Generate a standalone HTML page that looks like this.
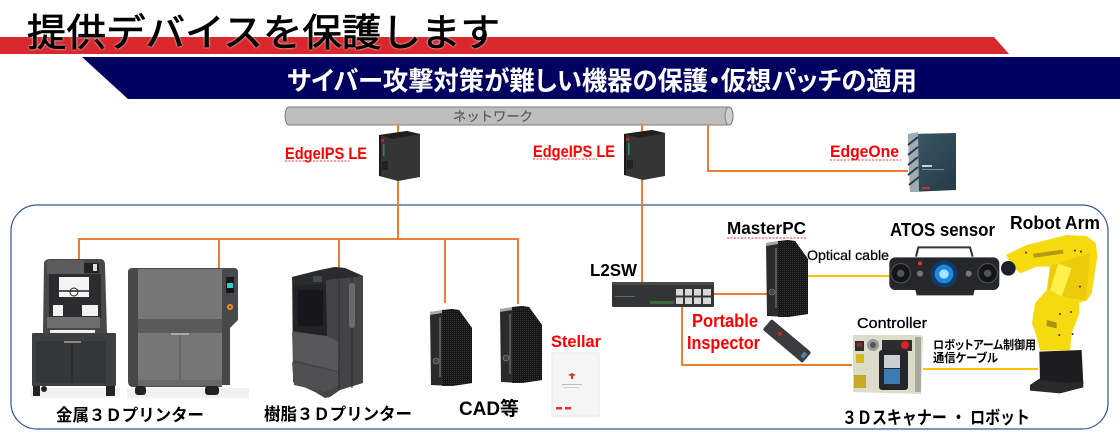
<!DOCTYPE html>
<html lang="ja"><head><meta charset="utf-8"><title>提供デバイスを保護します</title>
<style>
html,body{margin:0;padding:0;background:#fff;width:1120px;height:440px;overflow:hidden}
svg{display:block}
text{font-family:"Liberation Sans","Noto Sans CJK JP",sans-serif}
.b{font-weight:700}
.p{font-feature-settings:"palt"}
.r{fill:#f00;font-weight:700}
.w{fill:none;stroke:#f33;stroke-width:1;stroke-dasharray:2 1.5}
.o{stroke:#ed7d31;stroke-width:2;fill:none}
.y{stroke:#ffc000;stroke-width:2;fill:none}
</style></head><body>
<svg width="1120" height="440" viewBox="0 0 1120 440" xmlns="http://www.w3.org/2000/svg">
<defs>
<pattern id="mesh" width="2" height="2" patternUnits="userSpaceOnUse"><rect width="2" height="2" fill="#161616"/><rect width="1" height="1" fill="#303030"/></pattern>
<g id="pc">
<path d="M0 3 22 0 29 1 42 19 42 74 22 77 1 76Z" fill="#2a2a2a"/>
<path d="M12 1 22 0 22 77 12 77Z" fill="url(#mesh)"/>
<path d="M22 0 29 1 42 19 42 74 22 77Z" fill="url(#mesh)"/>
<path d="M0 3 12 1 12 4 0 6Z" fill="#a8a8a8"/>
<path d="M9 8h2v60H9z" fill="#555"/>
<circle cx="6" cy="52" r="3" fill="#444" stroke="#888" stroke-width=".6"/>
</g>
<g id="ips">
<path d="M0 4 28 0 41 3 41 46 19 50 0 45Z" fill="#353535"/>
<path d="M0 4 28 0 41 3 14 8Z" fill="#1f1f1f"/>
<path d="M0 4 2 4 2 45 0 45Z" fill="#1a1a1a"/>
<rect x="2" y="8" width="3" height="2.5" fill="#c22"/>
<rect x="4" y="13" width="1.5" height="12" fill="#2a8a7a"/>
<rect x="3" y="30" width="6" height="9" fill="#222"/>
</g>
<linearGradient id="eo" x1="0" y1="0" x2="1" y2="1"><stop offset="0" stop-color="#3c5868"/><stop offset="1" stop-color="#263a48"/></linearGradient>
</defs>

<!-- banners -->
<polygon points="0,37 994,37 1009,54 0,54" fill="#d9272e"/>
<polygon points="82,57 1120,57 1120,99 128,99" fill="#000060"/>
<text x="27" y="46" font-size="38" textLength="473" lengthAdjust="spacingAndGlyphs" fill="#000" stroke="#000" stroke-width=".8" style="filter:drop-shadow(0 0 1px #fff)">提供デバイスを保護します</text>
<text x="287" y="90" font-size="26" textLength="630" lengthAdjust="spacingAndGlyphs" fill="#fff" class="b p">サイバー攻撃対策が難しい機器の保護・仮想パッチの適用</text>

<!-- network pipe -->
<path d="M289 107H729a4 9 0 0 1 0 18H289a4 9 0 0 1 0-18Z" fill="#bdbdbd" stroke="#7f7f7f" stroke-width="1"/>
<ellipse cx="729" cy="116" rx="4" ry="9" fill="#cfcfcf" stroke="#7f7f7f"/>
<text x="453" y="121" font-size="13" textLength="80" lengthAdjust="spacingAndGlyphs" fill="#595959" stroke="#595959" stroke-width=".2">ネットワーク</text>

<!-- group frame -->
<rect x="11" y="205" width="1097" height="224" rx="26" ry="26" fill="none" stroke="#2f5597" stroke-width="1.2"/>

<!-- connectors -->
<path class="o" d="M398 125V239M642 125V282M708 125V171H908M79 259V239H519M219 239V268M339 239V268M445 239V303M518 239V304M714 294H767M682 307V365H852"/>
<path class="y" d="M807 276H890M923 369H1038"/>

<!-- EdgeIPS / EdgeOne -->
<use href="#ips" x="379" y="131"/>
<use href="#ips" x="624" y="130"/>
<polygon points="908,134 956,133 956,190 910,192" fill="url(#eo)"/>
<polygon points="908,134 918,132 919,192 910,192" fill="#a0acb4"/>
<path d="M908 145 918 137M908 155 918 147M908 165 918 157M908 175 918 167M909 185 919 177" stroke="#2a3d4a" stroke-width="2"/>
<rect x="922" y="165" width="10" height="2" fill="#ccd"/><rect x="922" y="169" width="22" height="1" fill="#789"/><rect x="922" y="187" width="8" height="2" fill="#c33"/>

<text x="285" y="159" font-size="16.500" class="r" textLength="82" lengthAdjust="spacingAndGlyphs">EdgeIPS LE</text>
<path class="w" d="M285 161H349"/>
<text x="533" y="157" font-size="16.500" class="r" textLength="82" lengthAdjust="spacingAndGlyphs">EdgeIPS LE</text>
<path class="w" d="M533 159H597"/>
<text x="830" y="157" font-size="16.500" class="r" textLength="69" lengthAdjust="spacingAndGlyphs">EdgeOne</text>
<path class="w" d="M830 160H901"/>

<!-- metal printer -->
<g>
<rect x="30" y="388" width="90" height="10" fill="#f1f1f1"/>
<path d="M43 333 44 263Q45 259 50 259H100Q105 259 105 265L107 333Z" fill="#47484a"/>
<rect x="47" y="260" width="37" height="14" fill="#5c5c5e"/>
<rect x="84" y="263" width="15" height="10" fill="#222"/><rect x="93" y="264" width="4" height="7" fill="#ddd"/>
<rect x="49" y="274" width="52" height="44" fill="#2c2c2e"/>
<rect x="59" y="277" width="30" height="20" fill="#f4f4f4"/>
<rect x="59" y="290" width="30" height="2" fill="#555"/>
<circle cx="74" cy="292" r="4" fill="none" stroke="#222"/>
<rect x="53" y="305" width="10" height="11" fill="#f2f2f2"/><rect x="82" y="305" width="16" height="11" fill="#f2f2f2"/>
<rect x="47" y="317" width="53" height="11" fill="#6e6e70"/>
<rect x="50" y="330" width="45" height="3" fill="#eee"/>
<rect x="32" y="333" width="84" height="53" fill="#3e3f41" rx="1"/>
<rect x="36" y="341" width="70" height="42" fill="#353638"/>
<path d="M72 341V383" stroke="#222"/>
<rect x="64" y="341" width="17" height="2" fill="#888"/>
<rect x="33" y="386" width="7" height="10" fill="#222"/><rect x="106" y="386" width="9" height="10" fill="#222"/>
<circle cx="44" cy="389" r="3" fill="#222"/>
</g>
<g>
<rect x="127" y="388" width="122" height="10" fill="#f1f1f1"/>
<path d="M128 272Q128 268 133 268H234Q238 268 238 272V320L230 328V385H222V387H133Q128 387 128 381Z" fill="#47484a"/>
<rect x="138" y="269" width="84" height="50" fill="#767677"/>
<rect x="138" y="333" width="84" height="47" fill="#767677"/>
<rect x="138" y="380" width="84" height="6" fill="#68686a"/>
<path d="M180 333V380" stroke="#555"/>
<rect x="171" y="333" width="18" height="2" fill="#aaa"/>
<rect x="138" y="319" width="84" height="14" fill="#5a5a5b"/>
<rect x="226" y="277" width="8" height="16" fill="#15171d"/><rect x="227" y="283" width="6" height="5" fill="#3cc"/>
<circle cx="230" cy="307" r="3" fill="#e0a020"/><circle cx="230" cy="307" r="1.3" fill="#c22"/>
<rect x="135" y="386" width="11" height="9" rx="3" fill="#222"/><rect x="205" y="386" width="14" height="9" rx="3" fill="#222"/>
</g>

<!-- resin printer -->
<g>
<path d="M292 277 320 270 335 267 345 268 363 276 363 383 340 390 330 397 325 398 315 392 293 382Z" fill="#444446"/>
<path d="M292 277 320 270 335 267 345 268 363 276 327 280 325 286 293 285Z" fill="#2a2b2e"/>
<path d="M293 285 326 284 327 336 293 331Z" fill="#232326"/>
<rect x="298" y="290" width="25" height="36" fill="#16161c"/>
<path d="M292 332 326 336 339 342 338 371 293 360Z" fill="#58585a"/>
<path d="M292 362 338 372 339 385 325 392 294 385Z" fill="#505052"/>
<path d="M339 280V390M352 276V388" stroke="#2a2a2c"/>
<rect x="349" y="283" width="6" height="45" rx="3" fill="#6a6a6c"/>
<rect x="313" y="276" width="9" height="6" fill="#3c4a58"/>
</g>

<!-- PCs -->
<use href="#pc" x="430" y="309"/>
<use href="#pc" x="500" y="306"/>
<use href="#pc" x="766" y="240"/>

<!-- Stellar -->
<rect x="552" y="353" width="47" height="63" fill="#f5f5f5" stroke="#e6e6e6"/>
<path d="M568 375l4-2 4 2-3 1 0 3-2 0 0-3z" fill="#d33"/>
<rect x="562" y="384" width="20" height="1" fill="#bbb"/><rect x="563" y="387" width="16" height="1" fill="#ccc"/>
<rect x="556" y="407" width="6" height="2.500" fill="#d33"/><rect x="565" y="407" width="6" height="2.500" fill="#d33"/>
<text x="551" y="347" font-size="17" class="r" textLength="50" lengthAdjust="spacingAndGlyphs">Stellar</text>

<!-- L2SW -->
<rect x="612" y="282" width="102" height="25" fill="#333436" rx="1"/>
<rect x="612" y="282" width="102" height="3" fill="#4a4a4c"/>
<rect x="676" y="289" width="35" height="15" fill="#d8d8d8"/>
<path d="M676 296.500H711M684 289V304M693 289V304M702 289V304" stroke="#333" stroke-width="2"/>
<rect x="650" y="301" width="24" height="3" fill="#3a6a3a"/>
<rect x="615" y="296" width="20" height="1" fill="#666"/>
<text x="590" y="276" font-size="17.500" class="b" textLength="47" lengthAdjust="spacingAndGlyphs">L2SW</text>

<text x="727" y="234" font-size="17.500" class="b" textLength="79" lengthAdjust="spacingAndGlyphs">MasterPC</text>
<path class="w" d="M727 238H806"/>
<text x="807" y="260" font-size="14" textLength="82" lengthAdjust="spacingAndGlyphs" stroke="#000" stroke-width=".25">Optical cable</text>
<text x="890" y="236" font-size="18.500" class="b" textLength="105" lengthAdjust="spacingAndGlyphs">ATOS sensor</text>
<text x="1010" y="229" font-size="18.500" class="b" textLength="90" lengthAdjust="spacingAndGlyphs">Robot Arm</text>

<!-- sensor -->
<g transform="translate(880 210) scale(.3333)">
<path d="M108 140 115 112H270L278 140" fill="none" stroke="#333" stroke-width="6"/>
<path d="M105 235H285L280 256H110Z" fill="#2a2a2e"/>
<rect x="28" y="142" width="330" height="98" rx="18" fill="#26272b"/>
<circle cx="62" cy="190" r="29" fill="#14151a" stroke="#555" stroke-width="3"/><circle cx="62" cy="190" r="11" fill="#4a5a50"/>
<circle cx="323" cy="190" r="29" fill="#14151a" stroke="#555" stroke-width="3"/><circle cx="323" cy="190" r="11" fill="#4a5a50"/>
<circle cx="192" cy="192" r="41" fill="#123a66"/><circle cx="192" cy="192" r="28" fill="#1e88e0"/><circle cx="192" cy="192" r="14" fill="#a4e6ff"/>
<circle cx="120" cy="160" r="6" fill="#e33"/>
<circle cx="120" cy="191" r="9" fill="#777"/><circle cx="266" cy="191" r="9" fill="#777"/>
</g>

<!-- robot -->
<g transform="translate(880 210) scale(.3333)">
<path d="M478 425 605 420 610 522 500 530 450 525 480 505Z" fill="#1d1d1f"/>
<path d="M450 525 480 510 560 520 610 515 610 532 540 550 450 542Z" fill="#2a2a2c"/>
<path d="M378 135 440 105 560 75 620 78 648 100 652 140 635 250 620 272 598 278 598 310 575 370 570 422 480 422 470 380 456 340 465 280 500 240 510 170 470 170 420 190 395 165Z" fill="#f6da10"/>
<path d="M510 170 560 150 630 130 618 270 560 262 505 240Z" fill="#ebcb0c"/>
<path d="M500 330 530 338 530 355 500 348Z" fill="#a89410"/>
<path d="M535 160 575 175 545 260 510 240Z" fill="#fff04c"/>
<g fill="#333"><circle cx="438" cy="128" r="3"/><circle cx="585" cy="122" r="3"/><circle cx="603" cy="125" r="3"/><circle cx="540" cy="312" r="3"/><circle cx="573" cy="306" r="3"/><circle cx="538" cy="375" r="3"/><circle cx="578" cy="372" r="3"/><circle cx="600" cy="230" r="3"/></g>
<circle cx="385" cy="175" r="22" fill="#1a2030"/>
<rect x="460" y="125" width="90" height="12" fill="#b89a10" transform="rotate(-8 505 132)"/>
</g>

<!-- portable inspector -->
<text x="692" y="327" font-size="18.500" class="r" textLength="66" lengthAdjust="spacingAndGlyphs">Portable</text>
<text x="687" y="349" font-size="18.500" class="r" textLength="73" lengthAdjust="spacingAndGlyphs">Inspector</text>
<g transform="rotate(40 787 341)">
<rect x="761" y="334" width="52" height="14" rx="2" fill="#3c3c3e"/>
<circle cx="777" cy="340" r="2" fill="#c22"/>
<rect x="807" y="338" width="4" height="6" fill="#48a"/>
</g>

<!-- controller -->
<text x="857" y="328" font-size="15" textLength="70" lengthAdjust="spacingAndGlyphs" stroke="#000" stroke-width=".3">Controller</text>
<polygon points="853,335 919,335 923,336 921,394 853,392" fill="#dcdccb"/>
<rect x="915" y="337" width="6" height="55" fill="#a9a99c"/>
<rect x="855" y="341" width="9" height="10" fill="#2e2e2e"/><rect x="857" y="343" width="5" height="4" fill="#a22"/>
<circle cx="873" cy="345" r="6" fill="#999"/><circle cx="873" cy="345" r="3" fill="#555"/>
<rect x="882" y="340" width="30" height="11" fill="#2d2d30"/>
<circle cx="905" cy="345" r="4" fill="#d22"/>
<rect x="856" y="354" width="8" height="9" fill="#d8b820"/>
<rect x="854" y="375" width="12" height="13" fill="#c8a828"/>
<rect x="879" y="350" width="29" height="40" rx="3" fill="#26262a"/>
<rect x="884" y="355" width="16" height="13" fill="#c8d0d4"/><rect x="884" y="369" width="16" height="15" fill="#3c7cb0"/>
<text x="933" y="349" font-size="12" class="b p" textLength="103" lengthAdjust="spacingAndGlyphs">ロボットアーム制御用</text>
<text x="933" y="362" font-size="12" class="b p" textLength="65" lengthAdjust="spacingAndGlyphs">通信ケーブル</text>

<!-- captions -->
<text x="56" y="421" font-size="17" class="b" textLength="148" lengthAdjust="spacingAndGlyphs">金属３Ｄプリンター</text>
<text x="264" y="420" font-size="17" class="b" textLength="148" lengthAdjust="spacingAndGlyphs">樹脂３Ｄプリンター</text>
<text x="459" y="415" font-size="19" class="b" textLength="60" lengthAdjust="spacingAndGlyphs">CAD等</text>
<text x="842" y="424" font-size="18" class="b" textLength="188" lengthAdjust="spacingAndGlyphs">３Ｄスキャナー ・ ロボット</text>
</svg>
</body></html>
